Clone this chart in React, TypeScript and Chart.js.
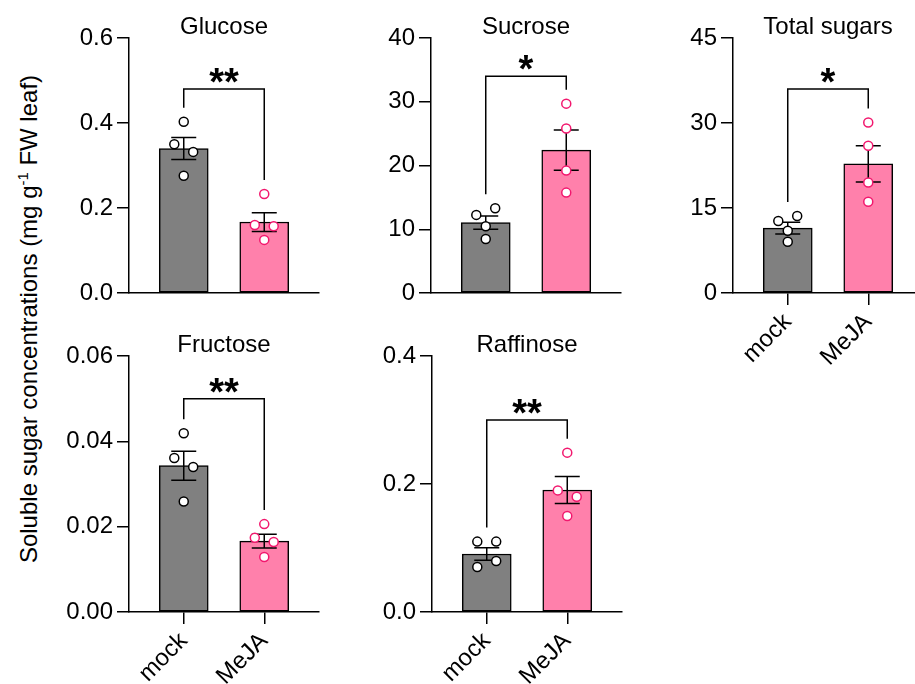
import React, { useEffect, useRef } from 'react';
import { Chart, registerables } from 'chart.js';

Chart.register(...registerables);

const FONT = '"Liberation Sans", Arial, Helvetica, sans-serif';

const groups = ['mock', 'MeJA'];

// Glucose
const glucoseMock = [0.403, 0.35, 0.332, 0.276];
const glucoseMeJA = [0.233, 0.16, 0.157, 0.125];
const glucoseMean = [0.34, 0.167];
const glucoseSem = [0.026, 0.022];
const glucoseTicks = [0, 0.2, 0.4, 0.6];
const glucoseSig = '**';
const glucoseBracket = 0.48;

// Sucrose
const sucroseMock = [12.25, 13.3, 10.47, 8.48];
const sucroseMeJA = [29.7, 25.8, 19.2, 15.75];
const sucroseMean = [11.04, 22.4];
const sucroseSem = [1.05, 3.15];
const sucroseTicks = [0, 10, 20, 30, 40];
const sucroseSig = '*';
const sucroseBracket = 34;

// Total sugars
const totalMock = [12.7, 13.6, 10.98, 9.04];
const totalMeJA = [30.1, 26.0, 19.5, 16.1];
const totalMean = [11.46, 22.8];
const totalSem = [1.03, 3.2];
const totalTicks = [0, 15, 30, 45];
const totalSig = '*';
const totalBracket = 36;

// Fructose
const fructoseMock = [0.0419, 0.0361, 0.034, 0.0259];
const fructoseMeJA = [0.0206, 0.0174, 0.0164, 0.0129];
const fructoseMean = [0.0343, 0.0166];
const fructoseSem = [0.0034, 0.0016];
const fructoseTicks = [0, 0.02, 0.04, 0.06];
const fructoseSig = '**';
const fructoseBracket = 0.05;

// Raffinose
const raffinoseMock = [0.11, 0.11, 0.0703, 0.0797];
const raffinoseMeJA = [0.249, 0.19, 0.18, 0.15];
const raffinoseMean = [0.0906, 0.1906];
const raffinoseSem = [0.0099, 0.021];
const raffinoseTicks = [0, 0.2, 0.4];
const raffinoseSig = '**';
const raffinoseBracket = 0.3;

const yAxisTitle = 'Soluble sugar concentrations (mg g';

type PanelDef = {
  title: string;
  mock: number[];
  meja: number[];
  mean: number[];
  sem: number[];
  ticks: number[];
  decimals: number;
  sig: string;
  bracket: number;
  left: number;
  top: number;
  height: number;
  showX: boolean;
};

const panels: PanelDef[] = [
  { title: 'Glucose', mock: glucoseMock, meja: glucoseMeJA, mean: glucoseMean, sem: glucoseSem, ticks: glucoseTicks, decimals: 1, sig: glucoseSig, bracket: glucoseBracket, left: 129, top: 38, height: 255, showX: false },
  { title: 'Sucrose', mock: sucroseMock, meja: sucroseMeJA, mean: sucroseMean, sem: sucroseSem, ticks: sucroseTicks, decimals: 0, sig: sucroseSig, bracket: sucroseBracket, left: 431, top: 38, height: 255, showX: false },
  { title: 'Total sugars', mock: totalMock, meja: totalMeJA, mean: totalMean, sem: totalSem, ticks: totalTicks, decimals: 0, sig: totalSig, bracket: totalBracket, left: 733, top: 38, height: 255, showX: true },
  { title: 'Fructose', mock: fructoseMock, meja: fructoseMeJA, mean: fructoseMean, sem: fructoseSem, ticks: fructoseTicks, decimals: 2, sig: fructoseSig, bracket: fructoseBracket, left: 129, top: 356, height: 256, showX: true },
  { title: 'Raffinose', mock: raffinoseMock, meja: raffinoseMeJA, mean: raffinoseMean, sem: raffinoseSem, ticks: raffinoseTicks, decimals: 1, sig: raffinoseSig, bracket: raffinoseBracket, left: 432, top: 356, height: 256, showX: true },
];

const X_MIN = -0.68;
const X_MAX = 1.68;
const PLOT_W = 191;
const Y_AXIS_W = 75;
const TOP_PAD = 38;
const RIGHT_PAD = 5;
const X_AXIS_H = 75;
const DOT_R = 4.5;
const DOT_GAP = 9.3;
const DOT_STEP = 19;

const GRAY = '#808080';
const PINK = '#FF80AB';
const PINK_DOT = '#F2186E';

function spread(vals: number[], max: number, plotH: number, unitPx: number): number[] {
  const idx = vals.map((_, i) => i).sort((a, b) => vals[b] - vals[a]);
  const out = new Array(vals.length).fill(0);
  let group: number[] = [idx[0]];
  const flush = () => {
    const g = [...group].sort((a, b) => a - b);
    g.forEach((k, j) => {
      out[k] = ((j - (g.length - 1) / 2) * DOT_STEP) / unitPx;
    });
  };
  for (let n = 1; n < idx.length; n++) {
    const prev = idx[n - 1];
    const cur = idx[n];
    if (((vals[prev] - vals[cur]) / max) * plotH < DOT_GAP) group.push(cur);
    else {
      flush();
      group = [cur];
    }
  }
  flush();
  return out;
}

function Panel({ p }: { p: PanelDef }) {
  const ref = useRef<HTMLCanvasElement | null>(null);
  const W = Y_AXIS_W + PLOT_W + RIGHT_PAD;
  const H = TOP_PAD + p.height + X_AXIS_H;

  useEffect(() => {
    if (!ref.current) return;
    const yMax = p.ticks[p.ticks.length - 1];
    const unitPx = PLOT_W / (X_MAX - X_MIN);
    const jm = spread(p.mock, yMax, p.height, unitPx);
    const jj = spread(p.meja, yMax, p.height, unitPx);
    const points = [
      ...p.mock.map((v, i) => ({ x: 0 + jm[i], y: v })),
      ...p.meja.map((v, i) => ({ x: 1 + jj[i], y: v })),
    ];
    const pointColors = [...p.mock.map(() => '#000'), ...p.meja.map(() => PINK_DOT)];

    const annot = {
      id: 'annot',
      afterDatasetDraw(chart: any, args: any) {
        if (args.index !== 0) return;
        const ctx = chart.ctx;
        const xs = chart.scales.x;
        const ys = chart.scales.y;
        ctx.save();
        ctx.strokeStyle = '#000';
        ctx.lineWidth = 1.5;
        for (let i = 0; i < 2; i++) {
          const x = xs.getPixelForValue(i);
          const yt = ys.getPixelForValue(p.mean[i] + p.sem[i]);
          const yb = ys.getPixelForValue(p.mean[i] - p.sem[i]);
          ctx.beginPath();
          ctx.moveTo(x, yt);
          ctx.lineTo(x, yb);
          ctx.moveTo(x - 12.5, yt);
          ctx.lineTo(x + 12.5, yt);
          ctx.moveTo(x - 12.5, yb);
          ctx.lineTo(x + 12.5, yb);
          ctx.stroke();
        }
        ctx.restore();
      },
      afterDraw(chart: any) {
        const ctx = chart.ctx;
        const xs = chart.scales.x;
        const ys = chart.scales.y;
        const area = chart.chartArea;
        ctx.save();
        ctx.fillStyle = '#000';
        ctx.font = `24px ${FONT}`;
        ctx.textAlign = 'center';
        ctx.textBaseline = 'alphabetic';
        ctx.fillText(p.title, (area.left + area.right) / 2, area.top - 4);
        const topOf = (vals: number[], i: number) =>
          Math.min(...vals.map((v) => ys.getPixelForValue(v)), ys.getPixelForValue(p.mean[i] + p.sem[i]));
        const xl = xs.getPixelForValue(0);
        const xr = xs.getPixelForValue(1);
        const legL = topOf(p.mock, 0) - 14;
        const legR = topOf(p.meja, 1) - 14;
        const by = ys.getPixelForValue(p.bracket);
        ctx.strokeStyle = '#000';
        ctx.lineWidth = 1.5;
        ctx.beginPath();
        ctx.moveTo(xl, legL);
        ctx.lineTo(xl, by);
        ctx.lineTo(xr, by);
        ctx.lineTo(xr, legR);
        ctx.stroke();
        ctx.font = `bold 38px ${FONT}`;
        ctx.fillText(p.sig, (xl + xr) / 2, by + 6);
        ctx.restore();
      },
    };

    const chart = new Chart(ref.current, {
      type: 'bar',
      data: {
        datasets: [
          {
            type: 'bar',
            data: p.mean.map((v, i) => ({ x: i, y: v })),
            backgroundColor: [GRAY, PINK],
            borderColor: '#000',
            borderWidth: 1.5,
            borderSkipped: false,
            barThickness: 49,
            order: 2,
          } as any,
          {
            type: 'scatter',
            data: points,
            pointRadius: DOT_R,
            pointBorderWidth: 1.5,
            pointBackgroundColor: '#fff',
            pointBorderColor: pointColors,
            showLine: false,
            order: 1,
          } as any,
        ],
      },
      options: {
        animation: false,
        responsive: false,
        events: [],
        layout: { padding: { left: 0, top: TOP_PAD, right: RIGHT_PAD, bottom: 0 } },
        plugins: { legend: { display: false }, tooltip: { enabled: false }, title: { display: false } },
        scales: {
          x: {
            type: 'linear',
            offset: false,
            min: X_MIN,
            max: X_MAX,
            afterBuildTicks: (s: any) => {
              s.ticks = [{ value: 0 }, { value: 1 }];
            },
            afterFit: (s: any) => {
              s.height = X_AXIS_H;
            },
            ticks: {
              display: p.showX,
              autoSkip: false,
              minRotation: 45,
              maxRotation: 45,
              padding: 3,
              color: '#000',
              font: { family: FONT, size: 24 },
              callback: (v: any) => groups[Math.round(Number(v))] ?? '',
            },
            grid: {
              display: true,
              offset: false,
              drawOnChartArea: false,
              drawTicks: p.showX,
              tickLength: 12,
              color: '#000',
              lineWidth: 1.5,
            },
            border: { display: true, color: '#000', width: 1.5 },
          },
          y: {
            type: 'linear',
            min: 0,
            max: yMax,
            afterBuildTicks: (s: any) => {
              s.ticks = p.ticks.map((v) => ({ value: v }));
            },
            afterFit: (s: any) => {
              s.width = Y_AXIS_W;
            },
            ticks: {
              padding: 4,
              color: '#000',
              font: { family: FONT, size: 24 },
              callback: (v: any) => Number(v).toFixed(p.decimals),
            },
            grid: {
              display: true,
              drawOnChartArea: false,
              drawTicks: true,
              tickLength: 12,
              color: '#000',
              lineWidth: 1.5,
            },
            border: { display: true, color: '#000', width: 1.5 },
          },
        },
      } as any,
      plugins: [annot as any],
    });
    return () => chart.destroy();
  }, []);

  return (
    <canvas
      ref={ref}
      width={W}
      height={H}
      style={{ position: 'absolute', left: p.left - Y_AXIS_W, top: p.top - TOP_PAD, width: W, height: H }}
    />
  );
}

export default function App() {
  return (
    <div
      style={{
        position: 'fixed',
        left: 0,
        top: 0,
        width: 915,
        height: 684,
        overflow: 'hidden',
        background: '#fff',
      }}
    >
      {panels.map((p) => (
        <Panel key={p.title} p={p} />
      ))}
      <div
        style={{
          position: 'absolute',
          left: 29,
          top: 319,
          transform: 'translate(-50%, -50%) rotate(-90deg)',
          whiteSpace: 'nowrap',
          fontFamily: FONT,
          fontSize: 24,
          lineHeight: '28px',
          color: '#000',
        }}
      >
        {yAxisTitle}
        <sup style={{ fontSize: '0.62em', lineHeight: 0 }}>-1</sup> FW leaf)
      </div>
    </div>
  );
}
